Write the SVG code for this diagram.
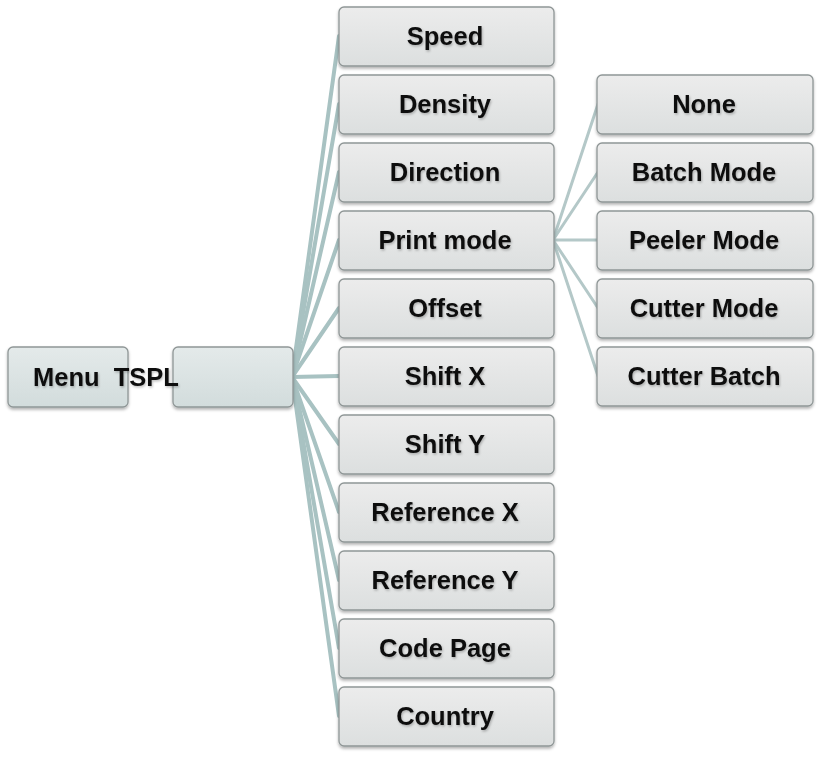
<svg xmlns="http://www.w3.org/2000/svg" width="820" height="757" viewBox="0 0 820 757">
<style>
.box{fill:url(#g);stroke:#8f9696;stroke-width:1.3;filter:url(#sh)}
.boxL{fill:url(#gL);stroke:#8f9696;stroke-width:1.3;filter:url(#sh)}
.t{font-family:"Liberation Sans",Arial,sans-serif;font-weight:bold;font-size:25.5px;fill:#111;text-anchor:middle;filter:url(#ts)}
.c{stroke:#a8c2c2;stroke-width:4;fill:none;stroke-linecap:round}
.c2{stroke:#b4c8c8;stroke-width:3;fill:none;stroke-linecap:round}
</style>
<defs>
<linearGradient id="g" x1="0" y1="0" x2="0" y2="1">
<stop offset="0" stop-color="#ececec"/>
<stop offset="1" stop-color="#dcdfdf"/>
</linearGradient>
<linearGradient id="gL" x1="0" y1="0" x2="0" y2="1">
<stop offset="0" stop-color="#e4eaea"/>
<stop offset="1" stop-color="#d2dcdc"/>
</linearGradient>
<filter id="sh" x="-10%" y="-20%" width="120%" height="150%">
<feDropShadow dx="0" dy="2" stdDeviation="1.5" flood-color="#000" flood-opacity="0.3"/>
</filter>
<filter id="ts" x="-10%" y="-30%" width="120%" height="160%">
<feDropShadow dx="1" dy="1.5" stdDeviation="1" flood-color="#000" flood-opacity="0.25"/>
</filter>
</defs>
<rect width="820" height="757" fill="#fff"/>
<g id="connectors">
<path class="c" d="M292 377 L339 36"/>
<path class="c" d="M292 377 L339 104"/>
<path class="c" d="M292 377 L339 172"/>
<path class="c" d="M292 377 L339 240"/>
<path class="c" d="M292 377 L339 308"/>
<path class="c" d="M292 377 L339 376"/>
<path class="c" d="M292 377 L339 444"/>
<path class="c" d="M292 377 L339 512"/>
<path class="c" d="M292 377 L339 580"/>
<path class="c" d="M292 377 L339 648"/>
<path class="c" d="M292 377 L339 716"/>
<path class="c2" d="M553 240 L598 104"/>
<path class="c2" d="M553 240 L598 172"/>
<path class="c2" d="M553 240 L598 240"/>
<path class="c2" d="M553 240 L598 308"/>
<path class="c2" d="M553 240 L598 376"/>
</g>
<g id="menu"><rect class="boxL" x="8" y="347" width="120" height="60" rx="5"/></g>
<g id="tspl"><rect class="boxL" x="173" y="347" width="120" height="60" rx="5"/></g>
<g id="menu-label"><text class="t" x="33" y="386" style="text-anchor:start;white-space:pre" xml:space="preserve">Menu  TSPL</text></g>
<g id="speed"><rect class="box" x="339" y="7" width="215" height="59" rx="5"/><text class="t" x="445" y="45">Speed</text></g>
<g id="density"><rect class="box" x="339" y="75" width="215" height="59" rx="5"/><text class="t" x="445" y="113">Density</text></g>
<g id="direction"><rect class="box" x="339" y="143" width="215" height="59" rx="5"/><text class="t" x="445" y="181">Direction</text></g>
<g id="printmode"><rect class="box" x="339" y="211" width="215" height="59" rx="5"/><text class="t" x="445" y="249">Print mode</text></g>
<g id="offset"><rect class="box" x="339" y="279" width="215" height="59" rx="5"/><text class="t" x="445" y="317">Offset</text></g>
<g id="shiftx"><rect class="box" x="339" y="347" width="215" height="59" rx="5"/><text class="t" x="445" y="385">Shift X</text></g>
<g id="shifty"><rect class="box" x="339" y="415" width="215" height="59" rx="5"/><text class="t" x="445" y="453">Shift Y</text></g>
<g id="refx"><rect class="box" x="339" y="483" width="215" height="59" rx="5"/><text class="t" x="445" y="521">Reference X</text></g>
<g id="refy"><rect class="box" x="339" y="551" width="215" height="59" rx="5"/><text class="t" x="445" y="589">Reference Y</text></g>
<g id="codepage"><rect class="box" x="339" y="619" width="215" height="59" rx="5"/><text class="t" x="445" y="657">Code Page</text></g>
<g id="country"><rect class="box" x="339" y="687" width="215" height="59" rx="5"/><text class="t" x="445" y="725">Country</text></g>
<g id="none"><rect class="box" x="597" y="75" width="216" height="59" rx="5"/><text class="t" x="704" y="113">None</text></g>
<g id="batch"><rect class="box" x="597" y="143" width="216" height="59" rx="5"/><text class="t" x="704" y="181">Batch Mode</text></g>
<g id="peeler"><rect class="box" x="597" y="211" width="216" height="59" rx="5"/><text class="t" x="704" y="249">Peeler Mode</text></g>
<g id="cutter"><rect class="box" x="597" y="279" width="216" height="59" rx="5"/><text class="t" x="704" y="317">Cutter Mode</text></g>
<g id="cutterbatch"><rect class="box" x="597" y="347" width="216" height="59" rx="5"/><text class="t" x="704" y="385">Cutter Batch</text></g>
</svg>
